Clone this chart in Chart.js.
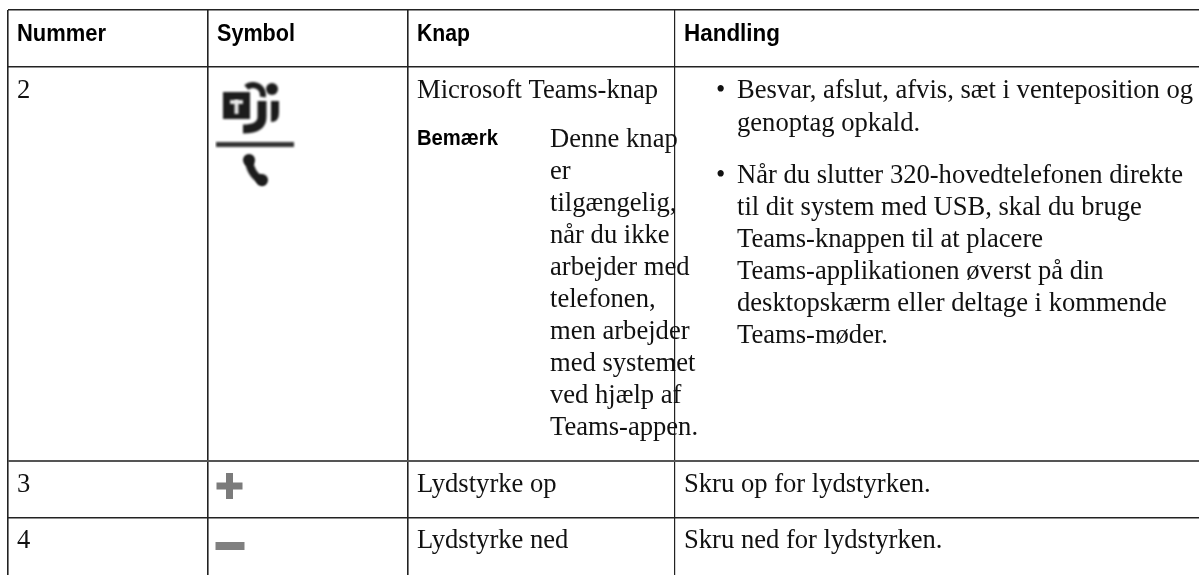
<!DOCTYPE html>
<html>
<head>
<meta charset="utf-8">
<style>
  html, body { margin: 0; padding: 0; background: #fff; overflow: hidden; }
  canvas { display: block; }
</style>
<script src="https://cdn.jsdelivr.net/npm/chart.js@4/dist/chart.umd.min.js"></script>
</head>
<body>
<canvas id="tableChart" width="1199" height="575"></canvas>
<script>
const columnNames = ['Nummer', 'Symbol', 'Knap', 'Handling'];
const rowNumbers = ['2', '3', '4'];
const buttonNames = ['Microsoft Teams-knap', 'Lydstyrke op', 'Lydstyrke ned'];
const noteLabel = 'Bemærk';
const noteLines = ['Denne knap', 'er', 'tilgængelig,', 'når du ikke', 'arbejder med', 'telefonen,',
    'men arbejder', 'med systemet', 'ved hjælp af', 'Teams-appen.'];
const firstActionLines = ['Besvar, afslut, afvis, sæt i venteposition og', 'genoptag opkald.'];
const secondActionLines = ['Når du slutter 320-hovedtelefonen direkte', 'til dit system med USB, skal du bruge',
    'Teams-knappen til at placere', 'Teams-applikationen øverst på din', 'desktopskærm eller deltage i kommende',
    'Teams-møder.'];
const rowActions = ['Skru op for lydstyrken.', 'Skru ned for lydstyrken.'];

// table layout, in scale units (the scales map 1:1 to the page)
const columnEdges = [8, 208, 408, 675];
const rowEdges = [10, 67, 461, 518];
const columnRuleWidths = [1.6, 1.6, 1.6, 1.2];
const rowRuleWidths = [1.4, 1.6, 2, 1.6];
const rowRuleColors = ['#222', '#222', '#555', '#222'];
const textX = [17, 217, 417, 684];
const headWidths = [89, 78, 53, 96];
const noteX = 550;
const actionX = 737;
const bulletX = 716;
const headerBase = 41;
const rowBase = [98, 492, 548];
const lineHeight = 32;

const bodyFont = '26.6px "Liberation Serif"';
const headFont = 'bold 23px "Liberation Sans"';
const noteFont = 'bold 21.5px "Liberation Sans"';

function teamsIcon() {
    const c = document.createElement('canvas');
    c.width = 84;
    c.height = 112;
    const g = c.getContext('2d');
    g.filter = 'blur(0.8px)';
    g.fillStyle = '#1c1c1c';
    g.strokeStyle = '#1c1c1c';
    // people behind the tile
    g.lineWidth = 6;
    g.beginPath();
    g.arc(38, 15, 10, -2.3, 0.2);
    g.stroke();
    g.beginPath();
    g.arc(57, 9, 6, 0, Math.PI * 2);
    g.fill();
    g.lineWidth = 9;
    g.beginPath();
    g.moveTo(47, 21);
    g.lineTo(47, 37);
    g.quadraticCurveTo(47, 49, 28, 49);
    g.stroke();
    g.lineWidth = 8;
    g.beginPath();
    g.moveTo(60, 21);
    g.lineTo(60, 33);
    g.quadraticCurveTo(60, 38, 56, 38);
    g.stroke();
    // tile with the T
    g.fillRect(8, 12, 27, 27);
    g.fillStyle = '#e8e8e8';
    g.fillRect(15, 20, 13, 4);
    g.fillRect(19.5, 20, 4, 14);
    // separator
    g.fillStyle = '#333';
    g.fillRect(1, 62, 78, 5);
    // handset
    g.fillStyle = '#1c1c1c';
    g.lineWidth = 8;
    g.lineCap = 'round';
    g.beginPath();
    g.moveTo(34, 80);
    g.quadraticCurveTo(35, 94, 47, 101);
    g.stroke();
    g.beginPath();
    g.arc(34, 80, 6, 0, Math.PI * 2);
    g.fill();
    g.beginPath();
    g.arc(47, 100, 6, 0, Math.PI * 2);
    g.fill();
    return c;
}

const symbolPoints = [{ x: 257, y: 136 }, { x: 229.5, y: 486 }, { x: 230, y: 546 }];

const textPlugin = {
    id: 'tableText',
    afterDatasetsDraw(chart) {
        const ctx = chart.ctx;
        const sx = chart.scales.x;
        const sy = chart.scales.y;
        const put = (text, x, y, maxWidth) => {
            const px = sx.getPixelForValue(x);
            const py = sy.getPixelForValue(y);
            if (maxWidth) {
                ctx.fillText(text, px, py, maxWidth);
            } else {
                ctx.fillText(text, px, py);
            }
        };
        ctx.save();
        ctx.textBaseline = 'alphabetic';
        ctx.textAlign = 'left';
        ctx.fillStyle = '#000';
        ctx.font = headFont;
        columnNames.forEach((name, i) => put(name, textX[i], headerBase, headWidths[i]));
        ctx.font = noteFont;
        put(noteLabel, textX[2], 145, 81);
        ctx.fillStyle = '#111';
        ctx.font = bodyFont;
        rowNumbers.forEach((n, i) => put(n, textX[0], rowBase[i]));
        buttonNames.forEach((n, i) => put(n, textX[2], rowBase[i]));
        noteLines.forEach((line, i) => put(line, noteX, 147 + i * lineHeight));
        firstActionLines.forEach((line, i) => put(line, actionX, 98 + i * 33));
        secondActionLines.forEach((line, i) => put(line, actionX, 183 + i * lineHeight));
        put('•', bulletX, 98);
        put('•', bulletX, 183);
        rowActions.forEach((n, i) => put(n, textX[3], rowBase[i + 1]));
        ctx.restore();
    }
};

new Chart(document.getElementById('tableChart'), {
    type: 'scatter',
    data: {
        datasets: [{
            data: symbolPoints,
            pointStyle: [teamsIcon(), 'cross', 'line'],
            pointRadius: [10, 13, 14.5],
            pointBorderWidth: [0, 7, 8],
            pointBorderColor: ['#000', '#7b7b7b', '#808080'],
            pointBackgroundColor: '#000',
            pointHoverRadius: [10, 13, 14.5]
        }]
    },
    options: {
        responsive: false,
        animation: false,
        layout: { autoPadding: false, padding: { left: 8, top: 10, right: 0, bottom: 0 } },
        events: [],
        plugins: { legend: { display: false }, tooltip: { enabled: false } },
        scales: {
            x: {
                type: 'linear',
                min: 8,
                max: 1199,
                afterBuildTicks: scale => { scale.ticks = columnEdges.map(v => ({ value: v })); },
                ticks: { display: false },
                border: { display: false },
                grid: {
                    color: '#222',
                    lineWidth: ctx => columnRuleWidths[ctx.index],
                    drawTicks: false
                }
            },
            y: {
                type: 'linear',
                reverse: true,
                min: 10,
                max: 575,
                afterBuildTicks: scale => { scale.ticks = rowEdges.map(v => ({ value: v })); },
                ticks: { display: false },
                border: { display: false },
                grid: {
                    color: ctx => rowRuleColors[ctx.index],
                    lineWidth: ctx => rowRuleWidths[ctx.index],
                    drawTicks: false
                }
            }
        }
    },
    plugins: [textPlugin]
});
</script>
</body>
</html>
